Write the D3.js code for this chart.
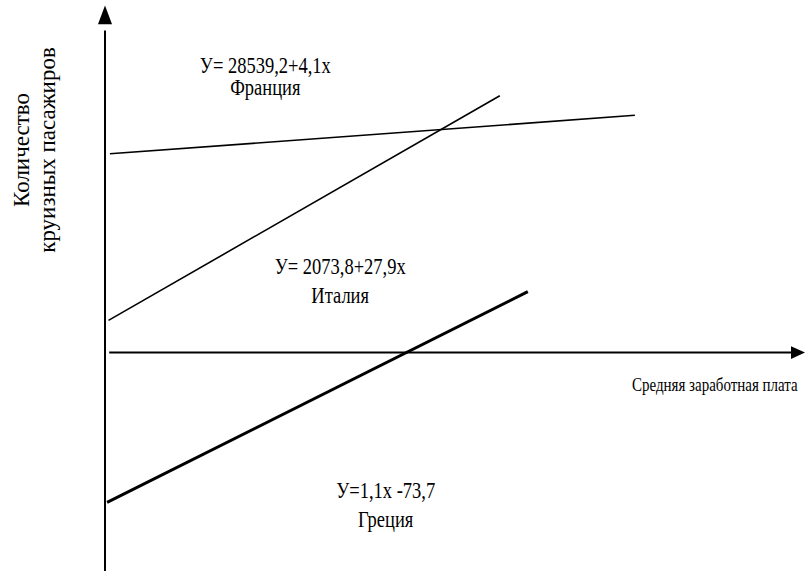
<!DOCTYPE html>
<html>
<head>
<meta charset="utf-8">
<script src="https://cdn.jsdelivr.net/npm/d3@7"></script>
<style>
    body { margin: 0; background: #fff; }
    svg text { font-family: "Liberation Serif", "Times New Roman", serif; fill: #000; }
</style>
</head>
<body>
<svg id="drawing_region"></svg>
<script>
// regression lines (schematic units), one per country
const countries = ['Франция', 'Италия', 'Греция'];
const formulas = ['У= 28539,2+4,1х', 'У= 2073,8+27,9х', 'У=1,1х -73,7'];
const lineStart = [[0.7, 28.4], [0.5, 4.6], [0.3, -21.4]];
const lineEnd = [[75.7, 33.9], [56.4, 36.7], [60.4, 8.7]];
const lineWidth = [1.6, 1.6, 3];
// label anchors (formula baseline) in the same units
const labelPos = [[22.9, 40.0], [33.6, 11.3], [40.1, -20.8]];
const labelGap = [22, 30, 29];

const xTitle = 'Средняя заработная плата';
const yTitle = ['Количество', 'круизных пасажиров'];

const width = 805, height = 571;
const stretch = 1.2;   // text in the picture is drawn a bit taller than wide

const svg = d3.select('#drawing_region')
    .attr('width', width)
    .attr('height', height)
    .attr('font-family', '"Liberation Serif", "Times New Roman", serif');

const x = d3.scaleLinear().domain([0, 100]).range([105, 805]);
const y = d3.scaleLinear().domain([-31.2, 49]).range([571, 9.6]);

// axes
svg.append('line')
    .attr('x1', x(0)).attr('x2', x(0))
    .attr('y1', y(-31.2)).attr('y2', y(46))
    .attr('stroke', 'black').attr('stroke-width', 2);
svg.append('path')
    .attr('d', `M${x(0)},${y(49.6)} L${x(-1)},${y(46.9)} L${x(1)},${y(46.9)} Z`)
    .attr('fill', 'black');

svg.append('line')
    .attr('x1', x(0.6)).attr('x2', x(98.5))
    .attr('y1', y(0)).attr('y2', y(0))
    .attr('stroke', 'black').attr('stroke-width', 2);
svg.append('path')
    .attr('d', `M${x(100)},${y(0)} L${x(98)},${y(0.9)} L${x(98)},${y(-0.9)} Z`)
    .attr('fill', 'black');

// regression lines
svg.selectAll('.reg')
    .data(countries)
    .join('line')
    .attr('class', 'reg')
    .attr('x1', (d, i) => x(lineStart[i][0]))
    .attr('y1', (d, i) => y(lineStart[i][1]))
    .attr('x2', (d, i) => x(lineEnd[i][0]))
    .attr('y2', (d, i) => y(lineEnd[i][1]))
    .attr('stroke', 'black')
    .attr('stroke-width', (d, i) => lineWidth[i]);

// formula + country name
const labels = svg.selectAll('.lbl')
    .data(countries)
    .join('g')
    .attr('class', 'lbl')
    .attr('transform', (d, i) => `translate(${x(labelPos[i][0])},${y(labelPos[i][1])}) scale(1,${stretch})`);
labels.append('text')
    .attr('text-anchor', 'middle')
    .attr('font-size', '18.5px')
    .text((d, i) => formulas[i]);
labels.append('text')
    .attr('y', (d, i) => labelGap[i] / stretch)
    .attr('text-anchor', 'middle')
    .attr('font-size', '18.5px')
    .text(d => d);

// axis titles
svg.append('g')
    .attr('transform', 'translate(632,391) scale(1,1.3)')
    .append('text')
    .attr('font-size', '15px')
    .text(xTitle);

svg.append('g')
    .attr('transform', 'translate(29, 150) rotate(-90)')
    .selectAll('text')
    .data(yTitle)
    .join('text')
    .attr('x', 0)
    .attr('y', (d, i) => i * 26)
    .attr('text-anchor', 'middle')
    .attr('font-size', '23px')
    .text(d => d);
</script>
</body>
</html>
